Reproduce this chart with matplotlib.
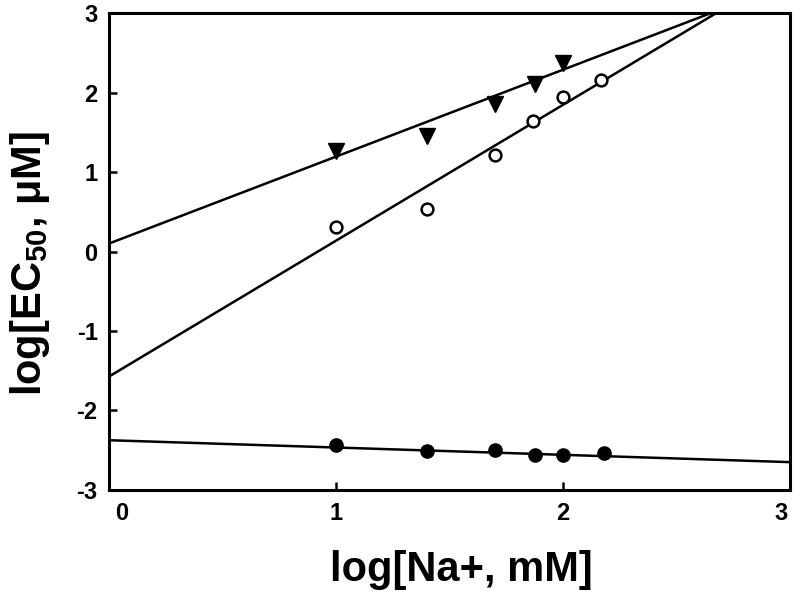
import numpy as np
import matplotlib
matplotlib.use("Agg")
import matplotlib.pyplot as plt
import matplotlib.transforms as mtransforms

plt.rcParams['font.family'] = ['Liberation Sans', 'DejaVu Sans']
plt.rcParams['mathtext.fontset'] = 'custom'
plt.rcParams['mathtext.rm'] = 'Liberation Sans:bold'
plt.rcParams['mathtext.bf'] = 'Liberation Sans:bold'
plt.rcParams['axes.unicode_minus'] = False

# Data
tri_x = [1.0, 1.40, 1.70, 1.88, 2.0]
tri_y = [1.26, 1.46, 1.86, 2.11, 2.37]
open_x = [1.0, 1.40, 1.70, 1.87, 2.0, 2.17]
open_y = [0.31, 0.54, 1.21, 1.65, 1.95, 2.16]
fill_x = [1.0, 1.40, 1.70, 1.88, 2.0, 2.18]
fill_y = [-2.44, -2.51, -2.50, -2.56, -2.56, -2.54]

# Fitted lines: slope, intercept
tri_fit = (1.094, 0.10)
open_fit = (1.71, -1.575)
fill_fit = (-0.092, -2.375)

x_ticks = [0, 1, 2, 3]
y_ticks = [-3, -2, -1, 0, 1, 2, 3]

fig = plt.figure(figsize=(8.0, 6.04), dpi=100)
ax = fig.add_axes([0.136, 0.189, 0.851, 0.789])

xl = np.array([0.0, 3.0])
for (m, b) in (tri_fit, open_fit, fill_fit):
    ax.plot(xl, m * xl + b, color='black', lw=1.8, zorder=2)

ax.plot(tri_x, tri_y, linestyle='none', marker='v', markersize=11,
        color='black', zorder=3)
ax.plot(open_x, open_y, linestyle='none', marker='o', markersize=8.5,
        markerfacecolor='white', markeredgecolor='black', markeredgewidth=1.8, zorder=3)
ax.plot(fill_x, fill_y, linestyle='none', marker='o', markersize=9.5,
        color='black', zorder=3)

ax.set_xlim(0, 3)
ax.set_ylim(-3, 3)
ax.set_xticks(x_ticks)
ax.set_yticks(y_ticks)
ax.tick_params(direction='in', length=6, width=1.8, labelsize=17)
ax.tick_params(axis='y', pad=8)
ax.tick_params(axis='x', pad=9)
for lab in ax.get_xticklabels() + ax.get_yticklabels():
    lab.set_fontweight('bold')
for s in ax.spines.values():
    s.set_linewidth(2.2)

# nudge outer x tick labels inward as in the reference
xlabs = ax.get_xticklabels()
xlabs[0].set_transform(xlabs[0].get_transform() +
                       mtransforms.ScaledTranslation(13 / 100, 0, fig.dpi_scale_trans))
xlabs[-1].set_transform(xlabs[-1].get_transform() +
                        mtransforms.ScaledTranslation(-9 / 100, 0, fig.dpi_scale_trans))

ax.set_xlabel('log[Na+, mM]', fontsize=30, fontweight='bold', labelpad=18)
ax.set_ylabel(r'log[EC$_{\mathrm{50}}$, μM]', fontsize=30, fontweight='bold', labelpad=18)
ax.xaxis.label.set_x(0.518)
ax.yaxis.label.set_y(0.475)

fig.savefig('out.png', dpi=100)
